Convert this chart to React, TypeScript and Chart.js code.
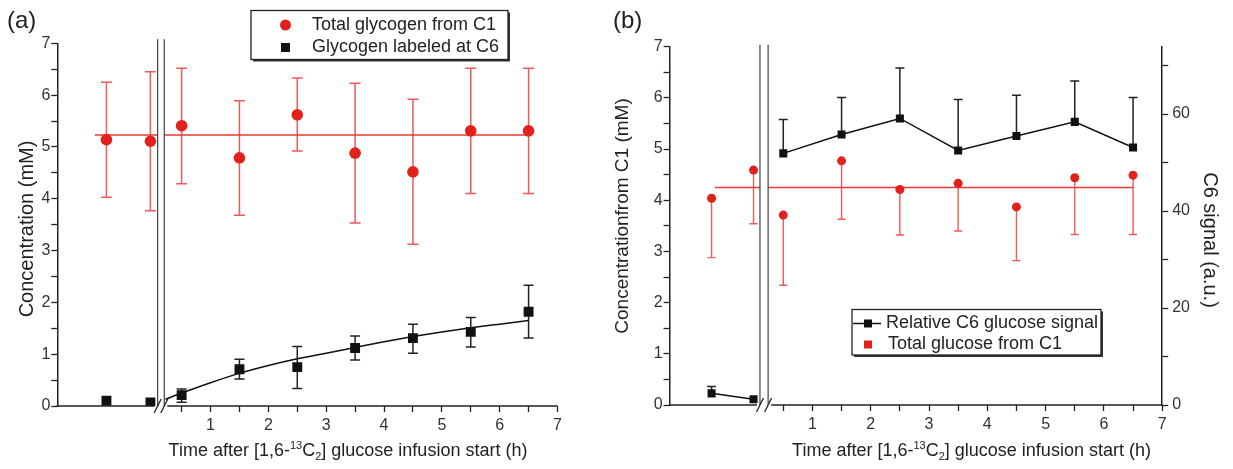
import React, { useEffect, useRef } from "react";
import { Chart, registerables } from "chart.js";

Chart.register(...registerables);

const FONT = '"Liberation Sans", Arial, Helvetica, sans-serif';
const RED = "#e3211c";
const RED_ERR = "#ec5a5a";
const RED_LINE = "#e43b34";
const BLACK = "#111111";
const AXIS = "#222222";
const TICK_TEXT = "#333333";

// ---------- Panel (a) data ----------
const panelALabel = "(a)";
const timesA = [-0.8, -0.04, 0.5, 1.5, 2.5, 3.5, 4.5, 5.5, 6.5];
const glycogenC1 = [5.14, 5.11, 5.41, 4.79, 5.62, 4.88, 4.52, 5.31, 5.31];
const glycogenC1Low = [4.03, 3.77, 4.29, 3.68, 4.92, 3.53, 3.12, 4.1, 4.1];
const glycogenC1High = [6.25, 6.45, 6.52, 5.89, 6.33, 6.23, 5.92, 6.52, 6.52];
const glycogenC6 = [0.1, 0.07, 0.21, 0.71, 0.75, 1.12, 1.31, 1.43, 1.82];
const glycogenC6Low = [null, null, 0.07, 0.52, 0.34, 0.89, 1.02, 1.14, 1.31];
const glycogenC6High = [null, null, 0.33, 0.9, 1.15, 1.35, 1.58, 1.71, 2.33];
const meanLineAX = [-1.0, 6.55];
const meanLineAY = 5.23;
const fitTimesA = [0.22, 0.5, 1, 1.5, 2, 2.5, 3, 3.5, 4, 4.5, 5, 5.5, 6, 6.5];
const fitC6A = [0.13, 0.25, 0.45, 0.63, 0.78, 0.91, 1.02, 1.13, 1.24, 1.34, 1.43, 1.51, 1.58, 1.65];
const breakA = [0.085, 0.2];
const xMinA = -1.65;

// ---------- Panel (b) data ----------
const panelBLabel = "(b)";
const timesBPre = [-0.73, -0.01];
const timesBPost = [0.5, 1.5, 2.5, 3.5, 4.5, 5.5, 6.5];
const c6SignalPre = [2.4, 1.2];
const c6SignalPreHigh = [3.8, null];
const c6SignalPost = [51.9, 55.8, 59.1, 52.5, 55.5, 58.4, 53.1];
const c6SignalPostHigh = [58.9, 63.4, 69.5, 63.0, 63.9, 66.8, 63.4];
const timesBGlucose = [-0.73, -0.01, 0.5, 1.5, 2.5, 3.5, 4.5, 5.5, 6.5];
const glucoseC1 = [4.04, 4.59, 3.71, 4.77, 4.21, 4.33, 3.87, 4.44, 4.49];
const glucoseC1Low = [2.88, 3.54, 2.34, 3.63, 3.32, 3.4, 2.82, 3.33, 3.33];
const meanLineBX = [-0.67, 6.51];
const meanLineBY = 4.25;
const breakB = [0.1, 0.24];
const xMinB = -1.45;
const c6AxisMax = 73.9;

// ---------- Axes / text ----------
const xTicks = [0.5, 1, 1.5, 2, 2.5, 3, 3.5, 4, 4.5, 5, 5.5, 6, 6.5, 7];
const yTicksLeft = [0, 0.5, 1, 1.5, 2, 2.5, 3, 3.5, 4, 4.5, 5, 5.5, 6, 6.5, 7];
const yTicksRight = [0, 10, 20, 30, 40, 50, 60, 70];
const yRightLabelStep = 20;
const xTitleParts = ["Time after [1,6-", "13", "C", "2", "] glucose infusion start (h)"];
const yTitleA = "Concentration (mM)";
const yTitleB = "Concentrationfrom C1 (mM)";
const yTitleBRight = "C6 signal (a.u.)";
const legendA = ["Total glycogen from C1", "Glycogen labeled at C6"];
const legendB = ["Relative C6 glucose signal", "Total glucose from C1"];

const errorBarPlugin = {
  id: "errorBars",
  beforeDatasetsDraw(chart: any) {
    const ctx = chart.ctx;
    chart.data.datasets.forEach((ds: any, i: number) => {
      const eb = ds.errorBars;
      if (!eb) return;
      const meta = chart.getDatasetMeta(i);
      const ys = chart.scales[ds.yAxisID || "y"];
      ctx.save();
      ctx.strokeStyle = eb.color;
      ctx.lineWidth = eb.width;
      meta.data.forEach((pt: any, j: number) => {
        const x = pt.x;
        const yc = pt.y;
        const lo = eb.low ? eb.low[j] : null;
        const hi = eb.high ? eb.high[j] : null;
        ctx.beginPath();
        if (hi != null) {
          const yh = ys.getPixelForValue(hi);
          ctx.moveTo(x, yc);
          ctx.lineTo(x, yh);
          ctx.moveTo(x - eb.cap, yh);
          ctx.lineTo(x + eb.cap, yh);
        }
        if (lo != null) {
          const yl = ys.getPixelForValue(lo);
          ctx.moveTo(x, yc);
          ctx.lineTo(x, yl);
          ctx.moveTo(x - eb.cap, yl);
          ctx.lineTo(x + eb.cap, yl);
        }
        ctx.stroke();
      });
      ctx.restore();
    });
  },
};

function makeBreakPlugin(bx: number[], topOffset: number) {
  return {
    id: "breakMarks",
    afterDatasetsDraw(chart: any) {
      const ctx = chart.ctx;
      const xs = chart.scales.x;
      const { left, right, top, bottom } = chart.chartArea;
      const p1 = xs.getPixelForValue(bx[0]);
      const p2 = xs.getPixelForValue(bx[1]);
      const t = top - topOffset;
      ctx.save();
      ctx.fillStyle = "#ffffff";
      ctx.fillRect(p1, t, p2 - p1, bottom - t);
      ctx.strokeStyle = "#444";
      ctx.lineWidth = 1.2;
      ctx.beginPath();
      ctx.moveTo(p1, t);
      ctx.lineTo(p1, bottom);
      ctx.moveTo(p2, t);
      ctx.lineTo(p2, bottom);
      ctx.stroke();
      // x axis line with gap
      ctx.strokeStyle = AXIS;
      ctx.lineWidth = 1.5;
      ctx.beginPath();
      ctx.moveTo(left - 0.75, bottom);
      ctx.lineTo(p1 - 3, bottom);
      ctx.moveTo(p2 + 3, bottom);
      ctx.lineTo(right, bottom);
      ctx.stroke();
      // slashes
      ctx.lineWidth = 1.3;
      ctx.beginPath();
      for (const p of [p1, p2]) {
        ctx.moveTo(p - 3.5, bottom + 7);
        ctx.lineTo(p + 3.5, bottom - 7);
      }
      ctx.stroke();
      ctx.restore();
    },
  };
}

function drawXTitle(ctx: CanvasRenderingContext2D, cx: number, baseline: number) {
  const big = `18px ${FONT}`;
  const small = `11px ${FONT}`;
  const segs = [
    { t: xTitleParts[0], f: big, dy: 0 },
    { t: xTitleParts[1], f: small, dy: -7 },
    { t: xTitleParts[2], f: big, dy: 0 },
    { t: xTitleParts[3], f: small, dy: 4 },
    { t: xTitleParts[4], f: big, dy: 0 },
  ];
  let total = 0;
  for (const s of segs) {
    ctx.font = s.f;
    total += ctx.measureText(s.t).width;
  }
  let x = cx - total / 2;
  ctx.fillStyle = "#222";
  ctx.textAlign = "left";
  ctx.textBaseline = "alphabetic";
  for (const s of segs) {
    ctx.font = s.f;
    ctx.fillText(s.t, x, baseline + s.dy);
    x += ctx.measureText(s.t).width;
  }
}

function drawRotated(ctx: CanvasRenderingContext2D, text: string, cx: number, cy: number, angle: number, size: number) {
  ctx.save();
  ctx.translate(cx, cy);
  ctx.rotate(angle);
  ctx.font = `${size}px ${FONT}`;
  ctx.fillStyle = "#222";
  ctx.textAlign = "center";
  ctx.textBaseline = "middle";
  ctx.fillText(text, 0, 0);
  ctx.restore();
}

function drawLegendBox(ctx: CanvasRenderingContext2D, x: number, y: number, w: number, h: number) {
  ctx.save();
  ctx.fillStyle = "#333";
  ctx.fillRect(x + 2, y + 2, w, h);
  ctx.fillStyle = "#fff";
  ctx.fillRect(x, y, w, h);
  ctx.strokeStyle = "#222";
  ctx.lineWidth = 1.3;
  ctx.strokeRect(x, y, w, h);
  ctx.restore();
}

const tickFont = { family: FONT, size: 16 };

function xScale(min: number) {
  return {
    type: "linear",
    min,
    max: 7,
    border: { display: false },
    grid: { drawOnChartArea: false, drawTicks: true, tickLength: 6, tickColor: AXIS, tickWidth: 1.3 },
    afterBuildTicks: (s: any) => {
      s.ticks = xTicks.map((v) => ({ value: v }));
    },
    ticks: {
      autoSkip: false,
      maxRotation: 0,
      padding: 4,
      color: TICK_TEXT,
      font: tickFont,
      callback: (v: any) => (Number.isInteger(v) ? String(v) : ""),
    },
  };
}

function leftScale(width: number) {
  return {
    type: "linear",
    position: "left",
    min: 0,
    max: 7,
    border: { display: true, color: AXIS, width: 1.5 },
    grid: { drawOnChartArea: false, drawTicks: true, tickLength: 6, tickColor: AXIS, tickWidth: 1.3 },
    afterBuildTicks: (s: any) => {
      s.ticks = yTicksLeft.map((v) => ({ value: v }));
    },
    afterFit: (s: any) => {
      s.width = width;
    },
    ticks: {
      autoSkip: false,
      padding: 1,
      color: TICK_TEXT,
      font: tickFont,
      callback: (v: any) => (Number.isInteger(v) ? String(v) : ""),
    },
  };
}

function PanelA() {
  const ref = useRef<HTMLCanvasElement>(null);
  useEffect(() => {
    const decor = {
      id: "decorA",
      afterDraw(chart: any) {
        const ctx = chart.ctx as CanvasRenderingContext2D;
        ctx.save();
        ctx.font = `24px ${FONT}`;
        ctx.fillStyle = "#222";
        ctx.textAlign = "left";
        ctx.textBaseline = "alphabetic";
        ctx.fillText(panelALabel, 7, 28);
        drawRotated(ctx, yTitleA, 27, 229, -Math.PI / 2, 20);
        drawXTitle(ctx, 348, 456);
        // legend
        drawLegendBox(ctx, 251, 10.5, 257, 49);
        ctx.fillStyle = RED;
        ctx.beginPath();
        ctx.arc(285.5, 25, 5.5, 0, Math.PI * 2);
        ctx.fill();
        ctx.fillStyle = BLACK;
        ctx.fillRect(281, 43, 9, 9);
        ctx.fillStyle = "#222";
        ctx.font = `18px ${FONT}`;
        ctx.textAlign = "left";
        ctx.textBaseline = "middle";
        ctx.fillText(chart.data.datasets[0].label, 312, 25);
        ctx.fillText(chart.data.datasets[1].label, 312, 47.5);
        ctx.restore();
      },
    };
    const chart = new Chart(ref.current as HTMLCanvasElement, {
      type: "scatter",
      data: {
        datasets: [
          {
            label: legendA[0],
            data: timesA.map((x, i) => ({ x, y: glycogenC1[i] })),
            pointStyle: "circle",
            pointRadius: 5.8,
            pointBackgroundColor: RED,
            pointBorderColor: RED,
            pointBorderWidth: 0,
            showLine: false,
            errorBars: { low: glycogenC1Low, high: glycogenC1High, color: RED_ERR, width: 1.5, cap: 5.5 },
          } as any,
          {
            label: legendA[1],
            data: timesA.map((x, i) => ({ x, y: glycogenC6[i] })),
            pointStyle: "rect",
            pointRadius: 7,
            pointBackgroundColor: BLACK,
            pointBorderColor: BLACK,
            pointBorderWidth: 0,
            showLine: false,
            errorBars: { low: glycogenC6Low, high: glycogenC6High, color: "#222", width: 1.5, cap: 5 },
          } as any,
          {
            label: "mean C1",
            data: meanLineAX.map((x) => ({ x, y: meanLineAY })),
            showLine: true,
            pointRadius: 0,
            borderColor: RED_LINE,
            borderWidth: 1.5,
          },
          {
            label: "fit C6",
            data: fitTimesA.map((x, i) => ({ x, y: fitC6A[i] })),
            showLine: true,
            pointRadius: 0,
            borderColor: BLACK,
            borderWidth: 1.5,
            cubicInterpolationMode: "monotone",
          } as any,
        ],
      },
      options: {
        animation: false,
        responsive: false,
        events: [],
        layout: { padding: { left: 0, right: 52.5, top: 43.3, bottom: 0 } },
        plugins: { legend: { display: false }, tooltip: { enabled: false } },
        scales: {
          x: { ...xScale(xMinA), afterFit: (s: any) => { s.height = 63; } } as any,
          y: leftScale(57.3) as any,
        },
      },
      plugins: [errorBarPlugin, makeBreakPlugin(breakA, 4), decor],
    });
    return () => chart.destroy();
  }, []);
  return <canvas ref={ref} width={610} height={469} style={{ display: "block" }} />;
}

function PanelB() {
  const ref = useRef<HTMLCanvasElement>(null);
  useEffect(() => {
    const decor = {
      id: "decorB",
      afterDraw(chart: any) {
        const ctx = chart.ctx as CanvasRenderingContext2D;
        ctx.save();
        ctx.font = `24px ${FONT}`;
        ctx.fillStyle = "#222";
        ctx.textAlign = "left";
        ctx.textBaseline = "alphabetic";
        ctx.fillText(panelBLabel, 3, 28);
        drawRotated(ctx, yTitleB, 13, 216, -Math.PI / 2, 19);
        drawRotated(ctx, yTitleBRight, 600, 240, Math.PI / 2, 20);
        drawXTitle(ctx, 361.5, 456);
        // legend
        drawLegendBox(ctx, 242, 309.5, 249, 45.5);
        ctx.strokeStyle = BLACK;
        ctx.lineWidth = 1.5;
        ctx.beginPath();
        ctx.moveTo(243, 323.5);
        ctx.lineTo(271, 323.5);
        ctx.stroke();
        ctx.fillStyle = BLACK;
        ctx.fillRect(254, 319.5, 8, 8);
        ctx.fillStyle = RED;
        ctx.fillRect(254, 340.5, 8, 8);
        ctx.fillStyle = "#222";
        ctx.font = `18px ${FONT}`;
        ctx.textAlign = "left";
        ctx.textBaseline = "middle";
        ctx.fillText(legendB[0], 276, 323);
        ctx.fillText(legendB[1], 278, 344);
        ctx.restore();
      },
    };
    const chart = new Chart(ref.current as HTMLCanvasElement, {
      type: "scatter",
      data: {
        datasets: [
          {
            label: legendB[0],
            yAxisID: "y1",
            data: timesBPost.map((x, i) => ({ x, y: c6SignalPost[i] })),
            pointStyle: "rect",
            pointRadius: 5.7,
            pointBackgroundColor: BLACK,
            pointBorderColor: BLACK,
            pointBorderWidth: 0,
            showLine: true,
            borderColor: BLACK,
            borderWidth: 1.5,
            errorBars: { high: c6SignalPostHigh, color: "#222", width: 1.5, cap: 4.5 },
          } as any,
          {
            label: legendB[0] + " (baseline)",
            yAxisID: "y1",
            data: timesBPre.map((x, i) => ({ x, y: c6SignalPre[i] })),
            pointStyle: "rect",
            pointRadius: 5.7,
            pointBackgroundColor: BLACK,
            pointBorderColor: BLACK,
            pointBorderWidth: 0,
            showLine: true,
            borderColor: BLACK,
            borderWidth: 1.5,
            errorBars: { high: c6SignalPreHigh, color: "#222", width: 1.5, cap: 4.5 },
          } as any,
          {
            label: legendB[1],
            yAxisID: "y",
            data: timesBGlucose.map((x, i) => ({ x, y: glucoseC1[i] })),
            pointStyle: "circle",
            pointRadius: 4.5,
            pointBackgroundColor: RED,
            pointBorderColor: RED,
            pointBorderWidth: 0,
            showLine: false,
            errorBars: { low: glucoseC1Low, color: RED_ERR, width: 1.4, cap: 4 },
          } as any,
          {
            label: "mean glucose",
            yAxisID: "y",
            data: meanLineBX.map((x) => ({ x, y: meanLineBY })),
            showLine: true,
            pointRadius: 0,
            borderColor: RED_LINE,
            borderWidth: 1.5,
          },
        ],
      },
      options: {
        animation: false,
        responsive: false,
        events: [],
        layout: { padding: { left: 0, right: 0, top: 46.7, bottom: 0 } },
        plugins: { legend: { display: false }, tooltip: { enabled: false } },
        scales: {
          x: { ...xScale(xMinB), afterFit: (s: any) => { s.height = 64; } } as any,
          y: leftScale(59.6) as any,
          y1: {
            type: "linear",
            position: "right",
            min: 0,
            max: c6AxisMax,
            border: { display: true, color: AXIS, width: 1.5 },
            grid: { drawOnChartArea: false, drawTicks: true, tickLength: 6, tickColor: AXIS, tickWidth: 1.3 },
            afterBuildTicks: (s: any) => {
              s.ticks = yTicksRight.map((v) => ({ value: v }));
            },
            afterFit: (s: any) => {
              s.width = 70.8;
            },
            ticks: {
              autoSkip: false,
              padding: 4,
              color: TICK_TEXT,
              font: tickFont,
              callback: (v: any) => (v % yRightLabelStep === 0 ? String(v) : ""),
            },
          } as any,
        },
      },
      plugins: [errorBarPlugin, makeBreakPlugin(breakB, 2), decor],
    });
    return () => chart.destroy();
  }, []);
  return <canvas ref={ref} width={623} height={469} style={{ display: "block" }} />;
}

export default function App() {
  return (
    <div style={{ position: "absolute", left: 0, top: 0, width: 1233, height: 469, background: "#fff", display: "flex" }}>
      <PanelA />
      <PanelB />
    </div>
  );
}
